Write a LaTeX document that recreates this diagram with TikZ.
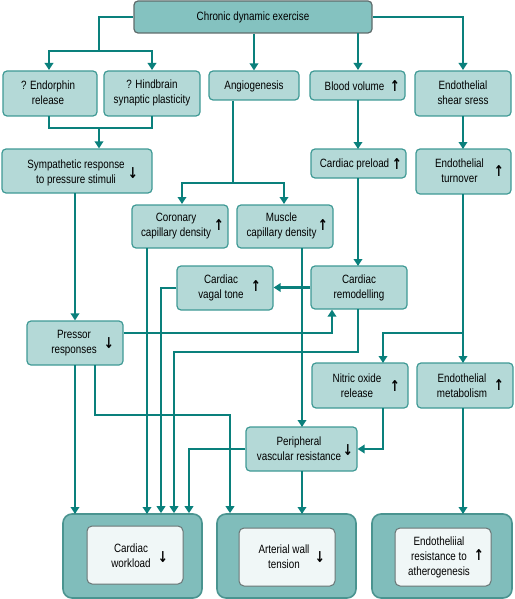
\documentclass[tikz,border=0pt]{standalone}
\usepackage{fontspec}
\setmainfont{Liberation Sans}[FakeStretch=0.82]
\newfontfamily\arrfont{DejaVu Sans}[FakeStretch=0.8]
\usetikzlibrary{arrows.meta,calc}
\definecolor{ln}{HTML}{0A807C}
\definecolor{boxfill}{HTML}{B4D9D7}
\definecolor{boxdraw}{HTML}{3F9A95}
\definecolor{topfill}{HTML}{84C2C0}
\definecolor{topdraw}{HTML}{5E6B6B}
\definecolor{outfill}{HTML}{80BDBB}
\definecolor{outdraw}{HTML}{4A9490}
\definecolor{infill}{HTML}{F0F7F7}
\definecolor{indraw}{HTML}{6A7575}
\tikzset{
  box/.style={draw=boxdraw, fill=boxfill, line width=1.2pt, rounded corners=4pt, inner sep=0pt},
  topbox/.style={draw=topdraw, fill=topfill, line width=1.2pt, rounded corners=4pt, inner sep=0pt},
  outbox/.style={draw=outdraw, fill=outfill, line width=1.6pt, rounded corners=9pt, inner sep=0pt},
  inbox/.style={draw=indraw, fill=infill, line width=1pt, rounded corners=5pt, inner sep=0pt},
  txt/.style={align=center, inner sep=0pt, font=\fontsize{12}{15}\selectfont},
  ar/.style={inner sep=0pt, font=\arrfont\bfseries\fontsize{15}{15}\selectfont},
  conn/.style={draw=ln, line width=2.4pt},
  arr/.style={conn, -{Triangle[width=8.5pt,length=7pt]}},
}
\newcommand{\bx}[6]{\node[#1, minimum width=#4pt, minimum height=#5pt] (#6) at (#2,#3) {};}
\begin{document}
\begin{tikzpicture}[x=1pt,y=-1pt]
\useasboundingbox (0,0) rectangle (514,599);
% boxes
\node[topbox, minimum width=238pt, minimum height=32pt] (top) at (253,17) {};
\node[txt] (top-t) at (253,17) {Chronic dynamic exercise};
\bx{box}{50}{93.5}{94}{45}{endo}
\bx{box}{152}{93.5}{96}{45}{hind}
\bx{box}{254}{85.5}{90}{29}{angio}
\bx{box}{357.5}{85.5}{95}{29}{blood}
\bx{box}{463}{93.5}{96}{45}{shear}
\bx{box}{77}{171}{150}{44}{symp}
\bx{box}{180}{226.5}{96}{43}{coron}
\bx{box}{285}{226.5}{96}{43}{muscle}
\bx{box}{358.5}{163.5}{95}{29}{preload}
\bx{box}{463.5}{171.5}{95}{45}{turn}
\bx{box}{359}{287.5}{96}{43}{remod}
\bx{box}{225}{288}{96}{44}{vagal}
\bx{box}{75}{343}{96}{44}{pressor}
\bx{box}{360}{385.5}{96}{45}{nitric}
\bx{box}{465}{385.5}{96}{45}{metab}
\bx{box}{301.5}{449}{111}{44}{periph}
\bx{outbox}{132.5}{556}{139}{84}{wo}
\bx{inbox}{135}{555}{96}{58}{wi}
\bx{outbox}{286.5}{556}{139}{84}{ao}
\bx{inbox}{287}{557}{96}{58}{ai}
\bx{outbox}{442}{556}{140}{84}{ro}
\bx{inbox}{443}{557}{96}{58}{ri}
% texts
\node[txt] (endo-t) at (48,93) {? Endorphin\\release};
\node[txt] (hind-t) at (152,93) {? Hindbrain\\synaptic plasticity};
\node[txt] (angio-t) at (254,86) {Angiogenesis};
\node[txt] (blood-t) at (354.5,86) {Blood volume};
\node[ar] (blood-a) at (395,86) {↑};
\node[txt] (shear-t) at (463,93) {Endothelial\\shear sress};
\node[txt] (symp-t) at (76,173) {Sympathetic response\\to pressure stimuli};
\node[ar] (symp-a) at (133,173) {↓};
\node[txt] (coron-t) at (176,226) {Coronary\\capillary density};
\node[ar] (coron-a) at (219,225) {↑};
\node[txt] (muscle-t) at (281.5,226) {Muscle\\capillary density};
\node[ar] (muscle-a) at (323,225) {↑};
\node[txt] (preload-t) at (354.5,164) {Cardiac preload};
\node[ar] (preload-a) at (397,164) {↑};
\node[txt] (turn-t) at (459.5,171) {Endothelial\\turnover};
\node[ar] (turn-a) at (499,171) {↑};
\node[txt] (vagal-t) at (221,288) {Cardiac\\vagal tone};
\node[ar] (vagal-a) at (256,286) {↑};
\node[txt] (remod-t) at (359,288) {Cardiac\\remodelling};
\node[txt] (pressor-t) at (74,343) {Pressor\\responses};
\node[ar] (pressor-a) at (109,343) {↓};
\node[txt] (nitric-t) at (357,386) {Nitric oxide\\release};
\node[ar] (nitric-a) at (395,386) {↑};
\node[txt] (metab-t) at (462,386) {Endothelial\\metabolism};
\node[ar] (metab-a) at (499,385) {↑};
\node[txt] (periph-t) at (299,449) {Peripheral\\vascular resistance};
\node[ar] (periph-a) at (348,450) {↓};
\node[txt] (wi-t) at (131,556) {Cardiac\\workload};
\node[ar] (wi-a) at (163,557) {↓};
\node[txt] (ai-t) at (284,557) {Arterial wall\\tension};
\node[ar] (ai-a) at (320,557) {↓};
\node[txt] (ri-t) at (439,557) {Endotheliial\\resistance to\\atherogenesis};
\node[ar] (ri-a) at (479,555) {↑};
% connectors
\coordinate (j1) at (99,51);
\draw[conn] (top.west) -| (j1);
\draw[arr] (j1) -| (49,70);
\draw[arr] (j1) -| (152,70);
\draw[arr] (angio.north |- top.south) -- (angio.north);
\draw[arr] (358,33) -- (358,70);
\draw[arr] (top.east) -| (463,70);
\coordinate (j2) at (99,128);
\draw[conn] (49,116) |- (j2);
\draw[conn] (152,116) |- (j2);
\draw[arr] (j2) -- (j2 |- symp.north);
\coordinate (j3) at (233,183);
\draw[conn] (j3 |- angio.south) -- (j3);
\draw[arr] (j3) -| (182,204);
\draw[arr] (j3) -| (284,204);
\draw[arr] (358,100) -- (358,149);
\draw[arr] (463,116) -- (463,149);
\draw[arr] (358,178) -- (358,266);
\draw[arr] (remod.west) -- (remod.west -| vagal.east);
\draw[arr] (75,193) -- (pressor.north);
\coordinate (p1) at (332,333);
\draw[arr] (pressor.east |- p1) -- (p1) -- (p1 |- remod.south);
\coordinate (c1) at (174,352);
\draw[arr] (358,309) |- (c1) -- (c1 |- wo.north);
\coordinate (v1) at (161,288);
\draw[arr] (vagal.west |- v1) -- (v1) -- (v1 |- wo.north);
\draw[arr] (147,248) -- (147,514);
\draw[arr] (302,248) -- (302,427);
\coordinate (t1) at (463,333);
\draw[arr] (463,194) -- (463,363);
\draw[arr] (t1) -| (383,363);
\draw[arr] (383,408) |- (periph.east);
\draw[arr] (75,365) -- (75,514);
\coordinate (q1) at (230,415);
\draw[arr] (95,365) |- (q1) -- (q1 |- ao.north);
\coordinate (r1) at (189,449);
\draw[arr] (periph.west) -- (r1) -- (r1 |- wo.north);
\draw[arr] (302,471) -- (302,514);
\draw[arr] (463,408) -- (463,514);
\end{tikzpicture}
\end{document}
